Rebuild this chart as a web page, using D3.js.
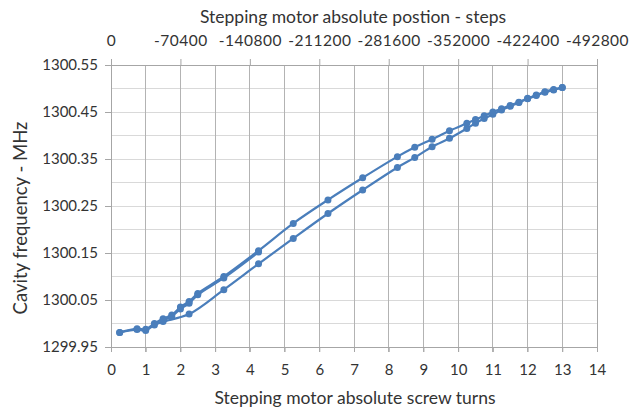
<!DOCTYPE html>
<html><head><meta charset="utf-8">
<script src="https://cdn.jsdelivr.net/npm/d3@7"></script>
<style>body{margin:0;background:#fff}svg{display:block}text{font-family:Lato,"Open Sans",sans-serif;fill:#333}</style>
</head><body><svg id="c" width="635" height="410"></svg>
<script>
// Branch measured with increasing turns (lower curve)
const lowerTurns = [0.25,0.75,1.0,1.25,1.5,2.25,3.25,4.25,5.25,6.25,7.25,8.25,8.75,9.25,9.75,10.25,10.5,10.75,11.0,11.25,11.5,11.75,12.0,12.25,12.5,12.75,13.0];
const lowerFreq  = [1299.981,1299.987,1299.985,1299.997,1300.004,1300.020,1300.072,1300.127,1300.181,1300.234,1300.284,1300.332,1300.353,1300.376,1300.394,1300.415,1300.426,1300.436,1300.445,1300.454,1300.462,1300.470,1300.478,1300.485,1300.492,1300.497,1300.502];
// Branch measured with decreasing turns (upper curve)
const upperTurns = [13.0,12.75,12.5,12.25,12.0,11.75,11.5,11.25,11.0,10.75,10.5,10.25,9.75,9.25,8.75,8.25,7.25,6.25,5.25,4.25,3.25,2.5,2.25,2.0,1.75,1.5,1.25,1.0,0.75,0.25];
const upperFreq  = [1300.502,1300.498,1300.493,1300.486,1300.479,1300.471,1300.464,1300.457,1300.450,1300.442,1300.434,1300.426,1300.410,1300.392,1300.375,1300.355,1300.310,1300.263,1300.213,1300.155,1300.100,1300.064,1300.047,1300.035,1300.018,1300.010,1300.000,1299.988,1299.989,1299.981];
// Short re-run overlapping the upper curve
const rerunTurns = [1.5,1.75,2.0,2.25,2.5,3.25,4.25];
const rerunFreq  = [1300.007,1300.015,1300.031,1300.043,1300.061,1300.097,1300.152];

const xTicks = [0,1,2,3,4,5,6,7,8,9,10,11,12,13,14];
const yLabelTicks = [1299.95,1300.05,1300.15,1300.25,1300.35,1300.45,1300.55];
const yGridTicks = [1299.95,1300.00,1300.05,1300.10,1300.15,1300.20,1300.25,1300.30,1300.35,1300.40,1300.45,1300.50,1300.55];
const stepTicks = [0,-70400,-140800,-211200,-281600,-352000,-422400,-492800];
const stepsPerTurn = -35200;

const svg = d3.select("#c");
const L=111, R=597, T=65, B=347;
const x = d3.scaleLinear().domain([0,14]).range([L,R]);
const y = d3.scaleLinear().domain([1299.95,1300.55]).range([B,T]);
const xs = d3.scaleLinear().domain([0,14*stepsPerTurn]).range([L,R]);
const blue = "#4a7ebb";
const tickCol = "#333";

// horizontal gridlines
svg.append("g").selectAll("line").data(yGridTicks).join("line")
  .attr("x1",L).attr("x2",R).attr("y1",d=>y(d)).attr("y2",d=>y(d))
  .attr("stroke","#d9d9d9").attr("stroke-width",1).attr("shape-rendering","crispEdges");
// vertical gridlines (with bottom tick extension)
svg.append("g").selectAll("line").data(xTicks).join("line")
  .attr("x1",d=>x(d)).attr("x2",d=>x(d)).attr("y1",T).attr("y2",B+5)
  .attr("stroke",d=>d===0||d===14?"#a6a6a6":"#b3b3b3").attr("stroke-width",1).attr("shape-rendering","crispEdges");

// left axis
const ya = d3.axisLeft(y).tickValues(yLabelTicks).tickSize(6).tickPadding(7).tickFormat(d3.format(".2f"));
const gy = svg.append("g").attr("transform",`translate(${L},0)`).call(ya);
gy.select(".domain").attr("stroke","#a6a6a6");
gy.selectAll(".tick line").attr("stroke","#a6a6a6");
gy.selectAll("text").attr("font-size",15).attr("fill",tickCol).style("font-family","Lato");

// bottom axis
const xa = d3.axisBottom(x).tickValues(xTicks).tickSize(5).tickPadding(12).tickFormat(d3.format("d"));
const gx = svg.append("g").attr("transform",`translate(0,${B})`).call(xa);
gx.select(".domain").attr("stroke","#a6a6a6");
gx.selectAll(".tick line").attr("stroke","#a6a6a6");
gx.selectAll("text").attr("font-size",15).attr("fill",tickCol).style("font-family","Lato");

// top axis (steps)
const sa = d3.axisTop(xs).tickValues(stepTicks).tickSize(6).tickPadding(13).tickFormat(d=>String(d));
const gs = svg.append("g").attr("transform",`translate(0,${T})`).call(sa);
gs.select(".domain").attr("stroke","#a6a6a6");
gs.selectAll(".tick line").attr("stroke","#a6a6a6");
gs.selectAll("text").attr("font-size",15.5).attr("fill",tickCol).style("font-family","Lato").attr("letter-spacing","0.5px");

// titles
svg.append("text").attr("x",353).attr("y",23).attr("text-anchor","middle").attr("font-size",17.5).text("Stepping motor absolute postion - steps");
svg.append("text").attr("x",355).attr("y",404).attr("text-anchor","middle").attr("font-size",17.5).text("Stepping motor absolute screw turns");
svg.append("text").attr("transform","translate(27,218) rotate(-90)").attr("text-anchor","middle").attr("font-size",18.5).text("Cavity frequency - MHz");

// series
const mk = (t,f)=>t.map((d,i)=>[d,f[i]]);
const series = [mk(lowerTurns,lowerFreq), mk(upperTurns,upperFreq), mk(rerunTurns,rerunFreq)];
const line = d3.line().x(d=>x(d[0])).y(d=>y(d[1])).curve(d3.curveCatmullRom.alpha(0.5));
const g = svg.append("g");
series.forEach(s=>{
  g.append("path").attr("d",line(s)).attr("fill","none").attr("stroke",blue).attr("stroke-width",2.2);
});
series.forEach(s=>{
  g.append("g").selectAll("circle").data(s).join("circle")
   .attr("cx",d=>x(d[0])).attr("cy",d=>y(d[1])).attr("r",3.5).attr("fill",blue);
});
</script></body></html>
